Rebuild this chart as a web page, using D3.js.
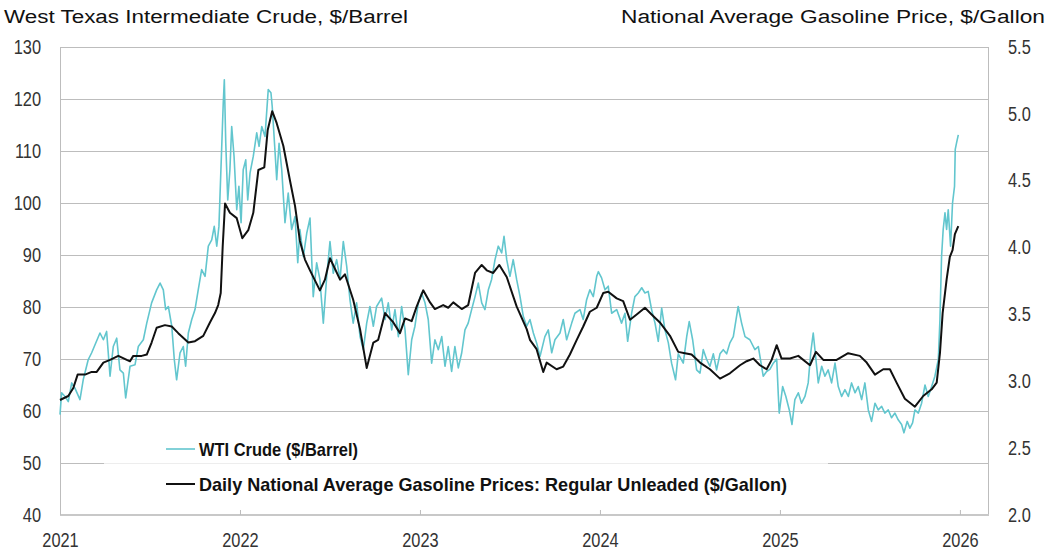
<!DOCTYPE html>
<html>
<head>
<meta charset="utf-8">
<script src="https://cdn.jsdelivr.net/npm/d3@7"></script>
<style>
    body { margin: 0; background: #fff; }
    .title { font-family: "Liberation Sans", Arial, sans-serif; font-size: 18px; fill: #111; }
    .tick-label { font-family: "Liberation Sans", Arial, sans-serif; font-size: 19.5px; fill: #333; }
    .legend-label { font-family: "Liberation Sans", Arial, sans-serif; font-size: 19px; font-weight: bold; fill: #111; }
</style>
</head>
<body>
<div id="chart"></div>
<script>
// --- DATA (time as decimal year) ---
const yearTicks = [2021, 2022, 2023, 2024, 2025, 2026];
const wtiTicks = [40, 50, 60, 70, 80, 90, 100, 110, 120, 130];
const gasTicks = [2.0, 2.5, 3.0, 3.5, 4.0, 4.5, 5.0, 5.5];

const titleLeft = "West Texas Intermediate Crude, $/Barrel";
const titleRight = "National Average Gasoline Price, $/Gallon";
const seriesNames = ["WTI Crude ($/Barrel)", "Daily National Average Gasoline Prices: Regular Unleaded ($/Gallon)"];

const wtiT = [
    2021.000, 2021.009, 2021.028, 2021.046, 2021.065, 2021.083, 2021.111, 2021.129, 2021.157, 2021.176,
    2021.194, 2021.222, 2021.241, 2021.259, 2021.278, 2021.296, 2021.315, 2021.333, 2021.352, 2021.365,
    2021.389, 2021.417, 2021.435, 2021.463, 2021.482, 2021.509, 2021.537, 2021.556, 2021.574, 2021.587,
    2021.602, 2021.621, 2021.635, 2021.648, 2021.667, 2021.685, 2021.698, 2021.713, 2021.732, 2021.750,
    2021.768, 2021.787, 2021.806, 2021.824, 2021.843, 2021.857, 2021.871, 2021.883, 2021.898, 2021.907,
    2021.913, 2021.921, 2021.932, 2021.944, 2021.954, 2021.967, 2021.982, 2021.994, 2022.006, 2022.018,
    2022.032, 2022.043, 2022.056, 2022.074, 2022.093, 2022.106, 2022.121, 2022.139, 2022.157, 2022.172,
    2022.179, 2022.194, 2022.204, 2022.217, 2022.232, 2022.250, 2022.268, 2022.287, 2022.306, 2022.321,
    2022.333, 2022.352, 2022.371, 2022.389, 2022.407, 2022.426, 2022.444, 2022.463, 2022.482, 2022.500,
    2022.518, 2022.537, 2022.556, 2022.574, 2022.593, 2022.611, 2022.629, 2022.648, 2022.667, 2022.685,
    2022.704, 2022.722, 2022.741, 2022.759, 2022.787, 2022.806, 2022.824, 2022.843, 2022.861, 2022.880,
    2022.898, 2022.917, 2022.935, 2022.954, 2022.972, 2022.991, 2023.009, 2023.028, 2023.046, 2023.065,
    2023.083, 2023.102, 2023.121, 2023.139, 2023.157, 2023.176, 2023.194, 2023.213, 2023.232, 2023.250,
    2023.268, 2023.287, 2023.306, 2023.324, 2023.343, 2023.361, 2023.380, 2023.398, 2023.417, 2023.435,
    2023.454, 2023.467, 2023.482, 2023.500, 2023.518, 2023.537, 2023.556, 2023.574, 2023.593, 2023.611,
    2023.630, 2023.648, 2023.667, 2023.694, 2023.713, 2023.732, 2023.750, 2023.778, 2023.796, 2023.815,
    2023.843, 2023.861, 2023.889, 2023.907, 2023.926, 2023.944, 2023.963, 2023.982, 2023.991, 2024.009,
    2024.028, 2024.046, 2024.065, 2024.093, 2024.120, 2024.139, 2024.154, 2024.176, 2024.194, 2024.213,
    2024.232, 2024.250, 2024.268, 2024.287, 2024.306, 2024.324, 2024.343, 2024.361, 2024.380, 2024.398,
    2024.420, 2024.435, 2024.463, 2024.482, 2024.496, 2024.515, 2024.537, 2024.556, 2024.574, 2024.593,
    2024.611, 2024.630, 2024.648, 2024.667, 2024.685, 2024.704, 2024.722, 2024.741, 2024.759, 2024.768,
    2024.787, 2024.806, 2024.833, 2024.861, 2024.880, 2024.907, 2024.926, 2024.944, 2024.963, 2024.982,
    2024.991, 2024.996, 2025.015, 2025.033, 2025.052, 2025.067, 2025.083, 2025.102, 2025.120, 2025.139,
    2025.157, 2025.171, 2025.185, 2025.200, 2025.213, 2025.232, 2025.250, 2025.268, 2025.287, 2025.306,
    2025.324, 2025.343, 2025.361, 2025.380, 2025.398, 2025.417, 2025.435, 2025.454, 2025.472, 2025.491,
    2025.509, 2025.528, 2025.546, 2025.565, 2025.583, 2025.602, 2025.620, 2025.639, 2025.657, 2025.676,
    2025.689, 2025.707, 2025.722, 2025.737, 2025.750, 2025.769, 2025.787, 2025.806, 2025.824, 2025.843,
    2025.861, 2025.880, 2025.889, 2025.898, 2025.907, 2025.917, 2025.926, 2025.935, 2025.948, 2025.959,
    2025.970, 2025.974, 2025.981, 2025.991
];
const wtiV = [
    59.3, 63.5, 62.8, 61.8, 65.4, 64.4, 62.2, 66.0, 69.9, 71.2,
    72.7, 75.0, 73.7, 75.3, 66.7, 72.4, 74.0, 67.9, 67.3, 62.5,
    68.6, 68.9, 72.4, 73.7, 76.9, 80.8, 83.3, 84.6, 83.3, 79.5,
    80.1, 76.3, 69.9, 66.0, 71.2, 72.4, 68.6, 75.0, 77.6, 79.5,
    83.3, 87.2, 85.9, 91.7, 92.9, 95.5, 91.7, 95.5, 110.3, 119.2,
    123.7, 111.5, 100.6, 106.4, 114.7, 109.0, 98.7, 103.2, 96.2, 106.4,
    108.3, 100.6, 105.8, 109.0, 113.5, 110.9, 114.7, 112.8, 121.8, 121.2,
    118.6, 110.3, 104.5, 111.5, 106.4, 96.2, 101.9, 94.9, 97.4, 88.5,
    94.9, 89.7, 94.2, 97.1, 82.0, 88.5, 85.3, 76.9, 85.9, 92.6,
    86.5, 89.1, 85.3, 92.6, 87.8, 81.4, 76.9, 80.8, 74.3, 71.8,
    76.9, 80.1, 76.3, 80.1, 81.7, 77.6, 80.8, 75.6, 79.5, 74.3,
    80.1, 75.6, 67.0, 73.7, 76.3, 80.8, 82.7, 80.8, 77.6, 69.2,
    73.7, 71.8, 74.3, 68.6, 72.4, 67.6, 72.4, 68.3, 71.2, 75.6,
    76.9, 79.5, 82.0, 84.6, 80.8, 79.5, 83.3, 85.3, 89.1, 91.7,
    90.4, 93.6, 89.1, 85.9, 89.1, 85.3, 82.0, 78.2, 76.3, 77.6,
    75.0, 73.1, 70.5, 74.3, 75.6, 71.2, 73.7, 75.0, 77.6, 73.7,
    76.9, 78.8, 79.5, 77.6, 81.4, 83.3, 82.0, 85.9, 86.8, 85.6,
    83.3, 84.0, 78.8, 79.5, 76.9, 78.8, 73.4, 78.8, 82.0, 82.7,
    83.7, 82.7, 83.0, 79.5, 76.9, 73.4, 79.8, 75.6, 73.1, 69.2,
    66.0, 71.0, 69.2, 74.3, 77.2, 73.7, 67.9, 67.3, 71.8, 69.9,
    68.6, 71.0, 67.9, 71.0, 71.8, 71.0, 73.1, 74.3, 78.2, 80.1,
    76.9, 74.3, 73.7, 71.8, 72.4, 66.7, 67.6, 68.0, 69.2, 70.0,
    63.0, 59.6, 64.7, 62.8, 60.2, 57.4, 62.2, 63.5, 61.5, 62.8,
    65.4, 71.2, 75.0, 69.9, 65.4, 68.6, 66.7, 67.9, 65.4, 69.2,
    64.7, 62.8, 64.1, 62.8, 65.4, 63.5, 64.7, 62.2, 65.4, 60.2,
    58.0, 61.5, 60.2, 60.9, 59.6, 60.2, 58.7, 59.6, 58.3, 57.4,
    55.8, 58.0, 56.7, 57.7, 60.2, 59.6, 61.5, 65.0, 62.8, 64.7,
    66.7, 69.9, 77.6, 89.7, 94.9, 98.1, 94.9, 98.7, 91.7, 100.0,
    103.2, 110.3, 111.5, 113.1
];

const gasT = [
    2021.000, 2021.046, 2021.074, 2021.098, 2021.139, 2021.176, 2021.204, 2021.241, 2021.278, 2021.324,
    2021.371, 2021.389, 2021.407, 2021.454, 2021.482, 2021.509, 2021.537, 2021.583, 2021.621, 2021.657,
    2021.713, 2021.750, 2021.796, 2021.833, 2021.861, 2021.879, 2021.893, 2021.904, 2021.917, 2021.944,
    2021.982, 2022.013, 2022.046, 2022.074, 2022.102, 2022.135, 2022.154, 2022.179, 2022.204, 2022.241,
    2022.278, 2022.306, 2022.333, 2022.361, 2022.389, 2022.444, 2022.472, 2022.500, 2022.556, 2022.583,
    2022.629, 2022.667, 2022.704, 2022.741, 2022.768, 2022.806, 2022.852, 2022.889, 2022.917, 2022.954,
    2022.982, 2023.018, 2023.056, 2023.083, 2023.129, 2023.157, 2023.185, 2023.232, 2023.268, 2023.306,
    2023.343, 2023.371, 2023.407, 2023.441, 2023.482, 2023.537, 2023.593, 2023.611, 2023.648, 2023.685,
    2023.704, 2023.759, 2023.796, 2023.833, 2023.871, 2023.907, 2023.944, 2023.982, 2024.018, 2024.046,
    2024.093, 2024.129, 2024.167, 2024.204, 2024.250, 2024.287, 2024.333, 2024.389, 2024.435, 2024.472,
    2024.509, 2024.556, 2024.611, 2024.667, 2024.722, 2024.778, 2024.815, 2024.852, 2024.889, 2024.926,
    2024.954, 2024.982, 2025.009, 2025.056, 2025.102, 2025.167, 2025.200, 2025.241, 2025.315, 2025.379,
    2025.444, 2025.482, 2025.528, 2025.574, 2025.611, 2025.648, 2025.694, 2025.750, 2025.796, 2025.843,
    2025.871, 2025.889, 2025.904, 2025.926, 2025.944, 2025.959, 2025.972, 2025.991
];
const gasV = [
    2.86, 2.89, 2.95, 3.05, 3.05, 3.07, 3.07, 3.14, 3.16, 3.19,
    3.16, 3.15, 3.19, 3.19, 3.20, 3.29, 3.40, 3.42, 3.41, 3.36,
    3.29, 3.30, 3.34, 3.44, 3.51, 3.57, 3.66, 4.01, 4.33, 4.26,
    4.22, 4.07, 4.13, 4.26, 4.58, 4.60, 4.88, 5.02, 4.93, 4.76,
    4.50, 4.31, 4.05, 3.91, 3.83, 3.68, 3.76, 3.92, 3.76, 3.80,
    3.61, 3.39, 3.10, 3.29, 3.31, 3.51, 3.44, 3.36, 3.47, 3.45,
    3.56, 3.68, 3.59, 3.54, 3.57, 3.55, 3.59, 3.54, 3.57, 3.81,
    3.87, 3.83, 3.81, 3.87, 3.78, 3.56, 3.39, 3.31, 3.24, 3.07,
    3.14, 3.09, 3.11, 3.20, 3.31, 3.41, 3.52, 3.55, 3.66, 3.67,
    3.62, 3.60, 3.46, 3.50, 3.55, 3.50, 3.44, 3.34, 3.22, 3.21,
    3.20, 3.14, 3.09, 3.02, 3.06, 3.12, 3.15, 3.17, 3.12, 3.09,
    3.16, 3.27, 3.17, 3.17, 3.19, 3.12, 3.22, 3.16, 3.16, 3.21,
    3.19, 3.14, 3.05, 3.09, 3.09, 2.99, 2.87, 2.81, 2.89, 2.94,
    2.99, 3.21, 3.51, 3.76, 3.93, 3.98, 4.10, 4.16
];

// --- CONFIGURACIÓN ---
const W = 1052, H = 553;
const plot = { left: 60, right: 988, top: 47, bottom: 515 };
const cyan = "#62c6ce";

const svg = d3.select("#chart").append("svg")
    .attr("width", W)
    .attr("height", H);

const x = d3.scaleLinear().domain([2021, 2026.156]).range([plot.left, plot.right]);
const yL = d3.scaleLinear().domain([40, 130]).range([plot.bottom, plot.top]);
const yR = d3.scaleLinear().domain([2, 5.5]).range([plot.bottom, plot.top]);

const wti = wtiT.map((t, i) => ({ t, v: wtiV[i] }));
const gas = gasT.map((t, i) => ({ t, v: gasV[i] }));

// squeeze or stretch a text node to a target width
const fitWidth = (sel, w) => sel.attr("textLength", w).attr("lengthAdjust", "spacingAndGlyphs");
const condense = (sel, k) => sel.each(function() {
    const w = this.getComputedTextLength();
    d3.select(this).attr("textLength", w * k).attr("lengthAdjust", "spacingAndGlyphs");
});

// --- TITLES ---
svg.append("text").attr("class", "title")
    .attr("x", 4).attr("y", 23).text(titleLeft)
    .call(fitWidth, 404);
svg.append("text").attr("class", "title")
    .attr("x", 621).attr("y", 23).text(titleRight)
    .call(fitWidth, 424);

// --- GRID ---
svg.append("g").selectAll("line")
    .data(wtiTicks.filter(d => d > 40))
    .enter().append("line")
    .attr("x1", plot.left).attr("x2", plot.right)
    .attr("y1", d => Math.round(yL(d)) + 0.5).attr("y2", d => Math.round(yL(d)) + 0.5)
    .attr("stroke", "#bdbdbd").attr("stroke-width", 1);

// right border
svg.append("line")
    .attr("x1", plot.right + 0.5).attr("x2", plot.right + 0.5)
    .attr("y1", yL(130)).attr("y2", plot.bottom)
    .attr("stroke", "#bdbdbd");

// --- AXES ---
const yAxisL = d3.axisLeft(yL).tickValues(wtiTicks).tickSize(0).tickPadding(19).tickFormat(d3.format("d"));
const gL = svg.append("g").attr("transform", `translate(${plot.left},0)`).call(yAxisL);
gL.select(".domain").attr("stroke", "#bdbdbd").attr("d", `M0.5,${plot.top}V${plot.bottom}`);

const yAxisR = d3.axisRight(yR).tickValues(gasTicks).tickSize(0).tickPadding(20).tickFormat(d3.format(".1f"));
const gR = svg.append("g").attr("transform", `translate(${plot.right},0)`).call(yAxisR);
gR.select(".domain").remove();

const xAxis = d3.axisBottom(x).tickValues(yearTicks).tickSize(-5).tickPadding(18).tickFormat(d3.format("d"));
const gX = svg.append("g").attr("transform", `translate(0,${plot.bottom})`).call(xAxis);
gX.select(".domain").attr("stroke", "#c8c8c8").attr("stroke-width", 2).attr("d", `M${plot.left},0H${plot.right + 1}`);
gX.selectAll(".tick line").attr("stroke", "#bdbdbd");

svg.selectAll(".tick text").attr("class", "tick-label").attr("fill", null).attr("font-family", null).attr("font-size", null);
svg.selectAll(".tick-label").call(condense, 0.84);

// --- LINES ---
const lineL = d3.line().x(d => x(d.t)).y(d => yL(d.v));
const lineR = d3.line().x(d => x(d.t)).y(d => yR(d.v));

svg.append("path").datum(wti)
    .attr("fill", "none").attr("stroke", cyan).attr("stroke-width", 1.6)
    .attr("stroke-linejoin", "round").attr("d", lineL);

svg.append("path").datum(gas)
    .attr("fill", "none").attr("stroke", "#111").attr("stroke-width", 2)
    .attr("stroke-linejoin", "round").attr("d", lineR);

// --- LEGEND ---
const legend = svg.append("g");
legend.append("rect")
    .attr("x", 104).attr("y", 432).attr("width", 724).attr("height", 68)
    .attr("fill", "#fff").attr("fill-opacity", 0.72);

const legendColors = [cyan, "#111"];
const legendY = [449, 484];
const legendW = [159, 588];
seriesNames.forEach((name, i) => {
    legend.append("line")
        .attr("x1", 166).attr("x2", 195)
        .attr("y1", legendY[i]).attr("y2", legendY[i])
        .attr("stroke", legendColors[i]).attr("stroke-width", i === 0 ? 1.6 : 2);
    legend.append("text").attr("class", "legend-label")
        .attr("x", 199).attr("y", legendY[i]).attr("dy", "0.35em")
        .text(name)
        .call(fitWidth, legendW[i]);
});
</script>
</body>
</html>
